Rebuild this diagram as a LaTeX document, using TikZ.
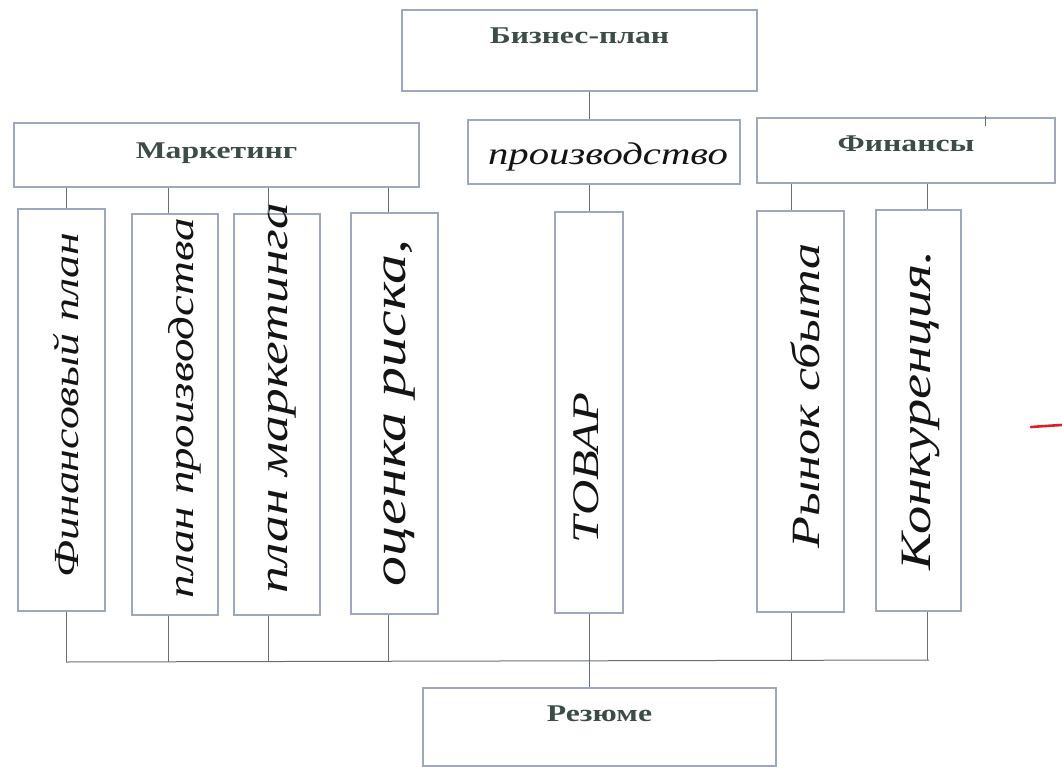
\documentclass[tikz,border=0pt]{standalone}
\usepackage{fontspec}
\newfontfamily\printfont[FakeStretch=1.32]{Liberation Serif}
\newfontfamily\handfont[FakeStretch=1.3]{Liberation Serif}
\usetikzlibrary{calc}
\definecolor{boxgray}{RGB}{158,168,184}
\definecolor{linegray}{RGB}{105,110,122}
\definecolor{inkgreen}{RGB}{62,76,72}
\definecolor{penred}{RGB}{225,30,40}
\newcommand{\handtext}[2]{\resizebox{#1pt}{!}{\handfont\itshape #2}}

\begin{document}
\begin{tikzpicture}[x=1pt, y=-1pt,
	frame/.style={draw=boxgray, line width=1.1pt, inner sep=0pt, fill=white},
	headbox/.style={frame, font=\printfont\bfseries\fontsize{24}{24}\selectfont, text=inkgreen, text height=16pt},
	hand/.style={inner sep=0pt, text=black!92},
	link/.style={draw=linegray, line width=1pt}]
			%%%%% START %%%%%
			\useasboundingbox (0,0) rectangle (1062,767);
			
			% printed boxes
			\node[headbox, minimum width=355, minimum height=81, text depth=29pt] (plan) at (579.5,50.5) {Бизнес-план};
			\node[headbox, minimum width=405, minimum height=64, text depth=8pt] (mkt) at (216.5,155) {Маркетинг};
			\node[frame, minimum width=272, minimum height=64] (prod) at (604,152) {};
			\node[headbox, minimum width=298, minimum height=65, text depth=13pt] (finance) at (906,150.5) {Финансы};
			\node[headbox, minimum width=353, minimum height=78, text depth=28pt] (resume) at (599.5,727) {Резюме};
			
			% tall boxes
			\node[frame, minimum width=87, minimum height=402] (finplan) at (61.5,410) {};
			\node[frame, minimum width=86, minimum height=401] (prodplan) at (175,414.5) {};
			\node[frame, minimum width=86, minimum height=401] (mktplan) at (277,414.5) {};
			\node[frame, minimum width=87, minimum height=401] (risk) at (394.5,413.5) {};
			\node[frame, minimum width=68, minimum height=401] (goods) at (589,412.5) {};
			\node[frame, minimum width=87, minimum height=401] (market) at (800.5,411.5) {};
			\node[frame, minimum width=85, minimum height=401] (rivals) at (918.5,410.5) {};
			
			% handwriting
			\node[hand] (prodT) at (608,157) {\handtext{240}{производство}};
			\node[hand, rotate=90] (finplanT) at (66,405) {\handtext{345}{Финансовый план}};
			\node[hand, rotate=90] (prodplanT) at (185,408) {\handtext{380}{план производства}};
			\node[hand, rotate=90] (mktplanT) at (282,398) {\handtext{390}{план маркетинга}};
			\node[hand, rotate=90] (riskT) at (400,413) {\handtext{347}{оценка риска,}};
			\node[hand, rotate=90] (goodsT) at (586,468) {\handtext{150}{ТОВАР}};
			\node[hand, rotate=90] (marketT) at (805,396) {\handtext{305}{Рынок сбыта}};
			\node[hand, rotate=90] (rivalsT) at (921,410) {\handtext{320}{Конкуренция.}};
			
			% drop points and bus
			\coordinate (d1) at (66,0);
			\coordinate (d2) at (168,0);
			\coordinate (d3) at (268,0);
			\coordinate (d4) at (388,0);
			\coordinate (d5) at (589,0);
			\coordinate (d6) at (791,0);
			\coordinate (d7) at (927,0);
			\coordinate (busL) at (66,662);
			\coordinate (busR) at (929,660);
			
			\draw[link] (plan.south -| d5) -- (prod.north -| d5);
			\draw[link] (prod.south -| d5) -- (goods.north);
			\draw[link] (mkt.south -| d1) -- (finplan.north -| d1);
			\draw[link] (mkt.south -| d2) -- (prodplan.north -| d2);
			\draw[link] (mkt.south -| d3) -- (mktplan.north -| d3);
			\draw[link] (mkt.south -| d4) -- (risk.north -| d4);
			\draw[link] (finance.south -| d6) -- (market.north -| d6);
			\draw[link] (finance.south -| d7) -- (rivals.north -| d7);
			
			\draw[link] (busL) -- (busR);
			\draw[link] (finplan.south -| d1) -- (d1 |- busL);
			\draw[link] (prodplan.south -| d2) -- (d2 |- busL);
			\draw[link] (mktplan.south -| d3) -- (d3 |- busL);
			\draw[link] (risk.south -| d4) -- (d4 |- busL);
			\draw[link] (goods.south) -- (resume.north -| d5);
			\draw[link] (market.south -| d6) -- (d6 |- busR);
			\draw[link] (rivals.south -| d7) -- (d7 |- busR);
			
			% marks on the sheet
			\draw[link] (985,116) -- (985,126);
			\draw[penred, line width=2.6pt, line cap=round] (1031,427) .. controls (1045,426) .. (1062,425);
			%%%%% END %%%%%
\end{tikzpicture}
\end{document}
